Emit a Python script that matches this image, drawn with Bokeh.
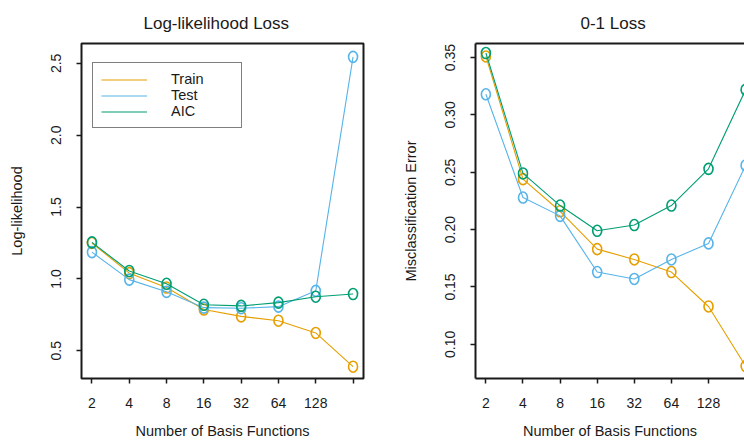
import math
from bokeh.plotting import figure
from bokeh.layouts import row
from bokeh.models import (FixedTicker, PrintfTickFormatter, Legend, LegendItem,
                          Range1d, LogAxis)
from bokeh.embed import file_html
from bokeh.resources import INLINE

# number of basis functions (log2-spaced)
basis = [2, 4, 8, 16, 32, 64, 128, 256]
basis_labels = {2: "2", 4: "4", 8: "8", 16: "16", 32: "32", 64: "64", 128: "128", 256: ""}

# log-likelihood loss
ll_train = [1.25, 1.04, 0.94, 0.787, 0.739, 0.709, 0.624, 0.389]
ll_test = [1.186, 0.995, 0.91, 0.80, 0.796, 0.807, 0.917, 2.545]
ll_aic = [1.254, 1.055, 0.966, 0.82, 0.812, 0.835, 0.876, 0.895]

# 0-1 loss (misclassification error)
zo_train = [0.351, 0.244, 0.216, 0.183, 0.174, 0.163, 0.133, 0.081]
zo_test = [0.318, 0.228, 0.212, 0.163, 0.157, 0.174, 0.188, 0.256]
zo_aic = [0.354, 0.249, 0.221, 0.199, 0.204, 0.221, 0.253, 0.322]

ll_ticks = [0.5, 1.0, 1.5, 2.0, 2.5]
zo_ticks = [0.10, 0.15, 0.20, 0.25, 0.30, 0.35]

series_names = ["Train", "Test", "AIC"]
colors = ["#E69F00", "#56B4E9", "#009E73"]

FONT = "Liberation Sans"
INK = "#1a1a1a"


def style_axes(p, yticks, yfmt, ylabel):
    xa = p.xaxis[0]
    ya = p.yaxis[0]
    xa.ticker = FixedTicker(ticks=basis)
    xa.major_label_overrides = basis_labels
    ya.ticker = FixedTicker(ticks=yticks)
    ya.formatter = PrintfTickFormatter(format=yfmt)
    xa.axis_label = "Number of Basis Functions"
    ya.axis_label = ylabel
    ya.major_label_orientation = "vertical"
    for ax in (xa, ya):
        ax.minor_tick_line_color = None
        ax.major_tick_in = 0
        ax.major_tick_out = 5
        ax.major_tick_line_width = 1.5
        ax.major_tick_line_color = INK
        ax.major_label_text_font = FONT
        ax.major_label_text_font_size = "14px"
        ax.major_label_text_color = INK
        ax.axis_label_text_font = FONT
        ax.axis_label_text_font_size = "14.5px"
        ax.axis_label_text_font_style = "normal"
        ax.axis_label_text_color = INK
    xa.major_label_standoff = 14
    xa.axis_label_standoff = 12
    ya.major_label_standoff = 15
    ya.axis_label_standoff = 24


def make_panel(title, ys, y_range, x_end, yticks, yfmt, ylabel,
               border_left, border_right, title_offset):
    p = figure(width=372, height=441, x_axis_type="log",
               x_range=Range1d(2 ** 0.72, 2 ** x_end), y_range=y_range,
               output_backend="svg", toolbar_location=None,
               min_border_left=border_left, min_border_right=border_right,
               min_border_top=43, min_border_bottom=58,
               background_fill_color="white", border_fill_color="white")
    p.grid.visible = False
    p.title.text = title
    p.title.align = "left"
    p.title.offset = title_offset
    p.title.text_font = FONT
    p.title.text_font_size = "17px"
    p.title.text_font_style = "normal"
    p.title.text_color = INK
    p.title.standoff = 22
    style_axes(p, yticks, yfmt, ylabel)

    lines = []
    for vals, c in zip(ys, colors):
        r = p.line(basis, vals, line_color=c, line_width=1.1)
        p.ellipse(basis, vals, width=9, height=11, width_units="screen",
                  height_units="screen", fill_color=None, line_color=c,
                  line_width=1.6)
        lines.append(r)
    return p, lines


# left: log-likelihood loss
p1, l1 = make_panel("Log-likelihood Loss", [ll_train, ll_test, ll_aic],
                    Range1d(0.307, 2.638), 8.28, ll_ticks, "%.1f",
                    "Log-likelihood", 81, 9, 62)
p1.outline_line_color = INK
p1.outline_line_width = 2
p1.xaxis.axis_line_color = None
p1.yaxis.axis_line_color = None

legend = Legend(items=[LegendItem(label=n, renderers=[r])
                       for n, r in zip(series_names, l1)],
                location=(11, 250), orientation="vertical",
                padding=8, spacing=-1, margin=0,
                glyph_width=46, glyph_height=15, label_height=15,
                label_standoff=24, label_width=62,
                label_text_font=FONT, label_text_font_size="14.5px",
                label_text_color=INK, label_text_baseline="middle",
                border_line_color="black", border_line_width=1.5,
                background_fill_color="white", background_fill_alpha=1.0)
p1.add_layout(legend, "center")

# right: 0-1 loss, frame continues past the right edge
p2, l2 = make_panel("0-1 Loss", [zo_train, zo_test, zo_aic],
                    Range1d(0.0702, 0.3623), 7.97, zo_ticks, "%.2f",
                    "Misclassification Error", 103, 0, 105)
p2.outline_line_color = None
for ax in (p2.xaxis[0], p2.yaxis[0]):
    ax.axis_line_color = INK
    ax.axis_line_width = 2
top = LogAxis(ticker=FixedTicker(ticks=[]), axis_line_color=INK,
              axis_line_width=2, major_tick_out=0, major_tick_in=0,
              minor_tick_line_color=None, major_label_text_font_size="0px",
              major_label_standoff=0)
p2.add_layout(top, "above")

layout = row(p1, p2, spacing=0)
open("out.html", "w").write(file_html(layout, INLINE))
